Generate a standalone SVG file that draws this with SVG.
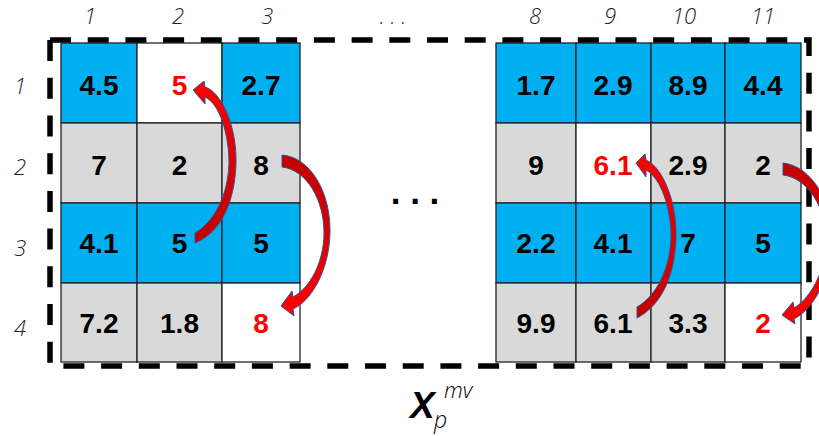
<svg xmlns="http://www.w3.org/2000/svg" width="819" height="436" viewBox="0 0 819 436">
<defs>
<style>
.b{fill:#00B0F0;stroke:#222;stroke-width:1.3}
.g{fill:#D9D9D9;stroke:#222;stroke-width:1.3}
.w{fill:#FFFFFF;stroke:#222;stroke-width:1.3}
.v{font-family:"Liberation Sans",Arial,sans-serif;font-size:28px;font-weight:bold;text-anchor:middle;fill:#000}
.r{fill:#FF0000}
.ax{font-family:"Open Sans","Liberation Sans",sans-serif;font-weight:300;font-style:italic;font-size:22px;text-anchor:middle;fill:#222}
.arr{stroke:#2F5597;stroke-width:1;stroke-linejoin:round}
</style>
<linearGradient id="up" x1="0" y1="1" x2="0" y2="0">
<stop offset="0" stop-color="#C00000"/><stop offset="1" stop-color="#FF0000"/>
</linearGradient>
<linearGradient id="down" x1="0" y1="0" x2="0" y2="1">
<stop offset="0" stop-color="#C00000"/><stop offset="1" stop-color="#FF0000"/>
</linearGradient>
</defs>
<rect width="819" height="436" fill="#FFFFFF"/>

<g id="axis-labels">
<text class="ax" x="90" y="24" font-size="21.5">1</text>
<text class="ax" x="178" y="24" font-size="21.5">2</text>
<text class="ax" x="267" y="24" font-size="21.5">3</text>
<text class="ax" x="393" y="24" font-size="21.5">. . .</text>
<text class="ax" x="535" y="24" font-size="21.5">8</text>
<text class="ax" x="610" y="24" font-size="21.5">9</text>
<text class="ax" x="684" y="24" font-size="21.5">10</text>
<text class="ax" x="763" y="24" font-size="21.5">11</text>
<text class="ax" x="20" y="94">1</text>
<text class="ax" x="20" y="175">2</text>
<text class="ax" x="20" y="256">3</text>
<text class="ax" x="20" y="336">4</text>
</g>

<g id="left-grid">
<g id="L-r1c1"><rect class="b" x="61" y="43" width="76" height="80"/><text class="v" x="99" y="95">4.5</text></g>
<g id="L-r1c2"><rect class="w" x="137" y="43" width="85" height="80"/><text class="v r" x="179.5" y="95">5</text></g>
<g id="L-r1c3"><rect class="b" x="222" y="43" width="78" height="80"/><text class="v" x="261" y="95">2.7</text></g>
<g id="L-r2c1"><rect class="g" x="61" y="123" width="76" height="80"/><text class="v" x="99" y="175">7</text></g>
<g id="L-r2c2"><rect class="g" x="137" y="123" width="85" height="80"/><text class="v" x="179.5" y="175">2</text></g>
<g id="L-r2c3"><rect class="g" x="222" y="123" width="78" height="80"/><text class="v" x="261" y="175">8</text></g>
<g id="L-r3c1"><rect class="b" x="61" y="203" width="76" height="80"/><text class="v" x="99" y="253">4.1</text></g>
<g id="L-r3c2"><rect class="b" x="137" y="203" width="85" height="80"/><text class="v" x="179.5" y="253">5</text></g>
<g id="L-r3c3"><rect class="b" x="222" y="203" width="78" height="80"/><text class="v" x="261" y="253">5</text></g>
<g id="L-r4c1"><rect class="g" x="61" y="283" width="76" height="79"/><text class="v" x="99" y="333">7.2</text></g>
<g id="L-r4c2"><rect class="g" x="137" y="283" width="85" height="79"/><text class="v" x="179.5" y="333">1.8</text></g>
<g id="L-r4c3"><rect class="w" x="222" y="283" width="78" height="79"/><text class="v r" x="261" y="333">8</text></g>
</g>

<g id="right-grid">
<g id="R-r1c8"><rect class="b" x="496" y="43" width="80" height="80"/><text class="v" x="536" y="95">1.7</text></g>
<g id="R-r1c9"><rect class="b" x="576" y="43" width="75" height="80"/><text class="v" x="613" y="95">2.9</text></g>
<g id="R-r1c10"><rect class="b" x="651" y="43" width="74" height="80"/><text class="v" x="688" y="95">8.9</text></g>
<g id="R-r1c11"><rect class="b" x="725" y="43" width="76" height="80"/><text class="v" x="763" y="95">4.4</text></g>
<g id="R-r2c8"><rect class="g" x="496" y="123" width="80" height="80"/><text class="v" x="536" y="175">9</text></g>
<g id="R-r2c9"><rect class="w" x="576" y="123" width="75" height="80"/><text class="v r" x="613" y="175">6.1</text></g>
<g id="R-r2c10"><rect class="g" x="651" y="123" width="74" height="80"/><text class="v" x="688" y="175">2.9</text></g>
<g id="R-r2c11"><rect class="g" x="725" y="123" width="76" height="80"/><text class="v" x="763" y="175">2</text></g>
<g id="R-r3c8"><rect class="b" x="496" y="203" width="80" height="80"/><text class="v" x="536" y="253">2.2</text></g>
<g id="R-r3c9"><rect class="b" x="576" y="203" width="75" height="80"/><text class="v" x="613" y="253">4.1</text></g>
<g id="R-r3c10"><rect class="b" x="651" y="203" width="74" height="80"/><text class="v" x="688" y="253">7</text></g>
<g id="R-r3c11"><rect class="b" x="725" y="203" width="76" height="80"/><text class="v" x="763" y="253">5</text></g>
<g id="R-r4c8"><rect class="g" x="496" y="283" width="80" height="79"/><text class="v" x="536" y="333">9.9</text></g>
<g id="R-r4c9"><rect class="g" x="576" y="283" width="75" height="79"/><text class="v" x="613" y="333">6.1</text></g>
<g id="R-r4c10"><rect class="g" x="651" y="283" width="74" height="79"/><text class="v" x="688" y="333">3.3</text></g>
<g id="R-r4c11"><rect class="w" x="725" y="283" width="76" height="79"/><text class="v r" x="763" y="333">2</text></g>
</g>

<g id="ellipsis">
<text x="415" y="204" font-family="Liberation Sans,Arial,sans-serif" font-size="35" font-weight="bold" text-anchor="middle">. . .</text>
</g>

<g id="frame">
<rect x="50" y="40" width="759" height="326" fill="none" stroke="#000" stroke-width="5.5" stroke-dasharray="21 16.7"/>
</g>

<g id="connectors">
<path class="arr" fill="url(#up)" d="M193,90 L204,81 L205,87 C222,92 237,128 236,163 C235,200 222,232 195,243 L195,233 C214,222 228,196 229,163 C229,135 220,104 205,97 L205,104 Z"/>
<path class="arr" fill="url(#down)" d="M282,155 C310,157 331,192 330,233 C329,272 310,302 293,309 L294,316 L281,306 L292,291 L293,297 C310,288 324,262 324,233 C324,200 307,170 282,167 Z"/>
<path class="arr" fill="url(#up)" d="M636,163 L645,154 L646,160 C663,167 677,203 676,237 C675,275 662,305 637,318 L637,307 C656,296 670,270 671,237 C671,208 661,178 646,170 L646,177 Z"/>
<path class="arr" fill="url(#down)" d="M783,163 C812,166 833,203 832,240 C831,280 812,310 794,319 L795,324 L782,315 L793,302 L794,308 C811,298 826,270 826,240 C826,208 808,178 783,175 Z"/>
</g>

<g id="label">
<text x="410" y="418" font-family="Liberation Sans,Arial,sans-serif" font-size="37" font-weight="bold" font-style="italic">X</text>
<text x="444" y="398" font-family="Open Sans,Liberation Sans,sans-serif" font-weight="300" font-style="italic" font-size="22">mv</text>
<text x="434" y="428" font-family="Open Sans,Liberation Sans,sans-serif" font-weight="300" font-style="italic" font-size="23">p</text>
</g>
</svg>
